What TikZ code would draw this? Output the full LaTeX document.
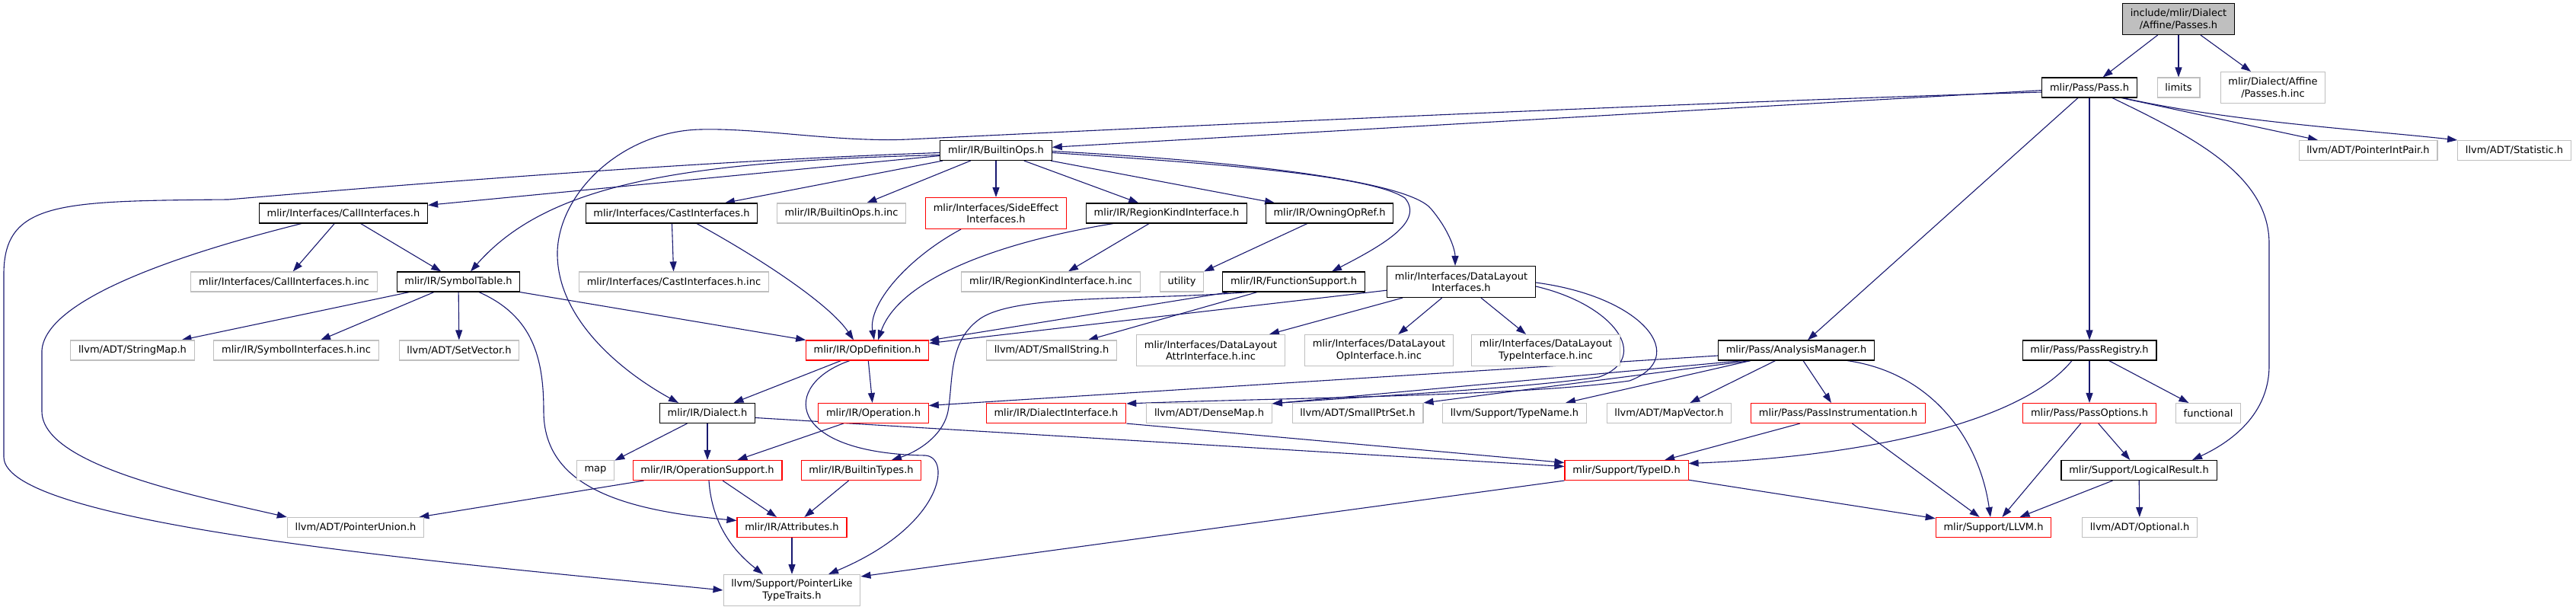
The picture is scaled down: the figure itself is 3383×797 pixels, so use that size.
\documentclass[tikz,border=0pt]{standalone}
\usepackage{fontspec}
\setmainfont{DejaVu Sans}
\usepackage{tikz}
\usetikzlibrary{arrows.meta,backgrounds}
\definecolor{incBlue}{HTML}{191970}
\definecolor{incGray}{HTML}{BFBFBF}
\definecolor{incRed}{HTML}{FF0000}
\tikzset{
  hfile/.style={draw, fill=white, line width=1.1pt, inner xsep=10.3pt, inner ysep=0pt,
    minimum height=26pt, align=center, font=\fontsize{13}{15.6}\selectfont},
  hdoc/.style={hfile, draw=black},
  hcut/.style={hfile, draw=incRed},
  hext/.style={hfile, draw=incGray},
  tall/.style={minimum height=41pt},
}
\begin{document}
\begin{tikzpicture}[x=1pt, y=1pt,
  inc/.style={draw=incBlue, line width=1.1pt, -{Triangle[length=13pt,width=9pt]}}]
\useasboundingbox (0,0) rectangle (3383,-797);
\node[hdoc, tall, fill=incGray] (root) at (2861,-25) {include/mlir/Dialect\\/Affine/Passes.h};
\node[hdoc] (pass) at (2744,-115) {mlir/Pass/Pass.h};
\node[hext] (limits) at (2861,-115) {limits};
\node[hext, tall] (passinc) at (2985,-115) {mlir/Dialect/Affine\\/Passes.h.inc};
\node[hdoc] (bops) at (1308,-197.5) {mlir/IR/BuiltinOps.h};
\node[hext] (ptrint) at (3110,-197.5) {llvm/ADT/PointerIntPair.h};
\node[hext] (stat) at (3302,-197.5) {llvm/ADT/Statistic.h};
\node[hdoc] (calli) at (451,-280) {mlir/Interfaces/CallInterfaces.h};
\node[hdoc] (casti) at (882,-280) {mlir/Interfaces/CastInterfaces.h};
\node[hext] (bopsinc) at (1105,-280) {mlir/IR/BuiltinOps.h.inc};
\node[hcut, tall] (sidefx) at (1308,-280) {mlir/Interfaces/SideEffect\\Interfaces.h};
\node[hdoc] (regkind) at (1532,-280) {mlir/IR/RegionKindInterface.h};
\node[hdoc] (owning) at (1746,-280) {mlir/IR/OwningOpRef.h};
\node[hext] (callinc) at (373,-370) {mlir/Interfaces/CallInterfaces.h.inc};
\node[hdoc] (symtab) at (602,-370) {mlir/IR/SymbolTable.h};
\node[hext] (castinc) at (885,-370) {mlir/Interfaces/CastInterfaces.h.inc};
\node[hext] (regkindinc) at (1380,-370) {mlir/IR/RegionKindInterface.h.inc};
\node[hext] (utility) at (1552,-370) {utility};
\node[hdoc] (funcsup) at (1699,-370) {mlir/IR/FunctionSupport.h};
\node[hdoc, tall] (dlayout) at (1919,-370) {mlir/Interfaces/DataLayout\\Interfaces.h};
\node[hext] (strmap) at (174,-460) {llvm/ADT/StringMap.h};
\node[hext] (syminc) at (389,-460) {mlir/IR/SymbolInterfaces.h.inc};
\node[hext] (setvec) at (603,-460) {llvm/ADT/SetVector.h};
\node[hcut] (opdef) at (1139,-460) {mlir/IR/OpDefinition.h};
\node[hext] (smallstr) at (1381,-460) {llvm/ADT/SmallString.h};
\node[hext, tall] (attrinc) at (1590,-460) {mlir/Interfaces/DataLayout\\AttrInterface.h.inc};
\node[hext, tall] (opinc) at (1811,-460) {mlir/Interfaces/DataLayout\\OpInterface.h.inc};
\node[hext, tall] (typeinc) at (2030,-460) {mlir/Interfaces/DataLayout\\TypeInterface.h.inc};
\node[hdoc] (anamgr) at (2359,-460) {mlir/Pass/AnalysisManager.h};
\node[hdoc] (passreg) at (2744,-460) {mlir/Pass/PassRegistry.h};
\node[hdoc] (dialect) at (929,-542.5) {mlir/IR/Dialect.h};
\node[hcut] (operation) at (1147,-542.5) {mlir/IR/Operation.h};
\node[hcut] (dialint) at (1387,-542.5) {mlir/IR/DialectInterface.h};
\node[hext] (densemap) at (1588,-542.5) {llvm/ADT/DenseMap.h};
\node[hext] (smallptr) at (1783,-542.5) {llvm/ADT/SmallPtrSet.h};
\node[hext] (typename) at (1989,-542.5) {llvm/Support/TypeName.h};
\node[hext] (mapvec) at (2192,-542.5) {llvm/ADT/MapVector.h};
\node[hcut] (passinstr) at (2414,-542.5) {mlir/Pass/PassInstrumentation.h};
\node[hcut] (passopt) at (2744,-542.5) {mlir/Pass/PassOptions.h};
\node[hext] (functional) at (2900,-542.5) {functional};
\node[hext] (map) at (782,-617.5) {map};
\node[hcut] (opsupp) at (929,-617.5) {mlir/IR/OperationSupport.h};
\node[hcut] (btypes) at (1131,-617.5) {mlir/IR/BuiltinTypes.h};
\node[hcut] (typeid) at (2136,-617.5) {mlir/Support/TypeID.h};
\node[hdoc] (logres) at (2809,-617.5) {mlir/Support/LogicalResult.h};
\node[hext] (ptrunion) at (467,-692.5) {llvm/ADT/PointerUnion.h};
\node[hcut] (attrs) at (1040,-692.5) {mlir/IR/Attributes.h};
\node[hcut] (llvmh) at (2618,-692.5) {mlir/Support/LLVM.h};
\node[hext] (optional) at (2810,-692.5) {llvm/ADT/Optional.h};
\node[hext, tall] (ptrlike) at (1040,-775) {llvm/Support/PointerLike\\TypeTraits.h};
\begin{scope}[on background layer]
\foreach \a/\b in {root/pass, root/limits, root/passinc, pass/bops, pass/anamgr, pass/passreg,
    bops/calli, bops/casti, bops/bopsinc, bops/sidefx, bops/regkind, bops/owning,
    calli/callinc, calli/symtab, casti/castinc, regkind/regkindinc, owning/utility,
    symtab/strmap, symtab/syminc, symtab/setvec, symtab/opdef,
    funcsup/opdef, funcsup/smallstr, dlayout/opdef, dlayout/attrinc, dlayout/opinc, dlayout/typeinc,
    anamgr/mapvec, anamgr/passinstr, passreg/passopt, passreg/functional,
    opdef/dialect, opdef/operation, dialect/map, dialect/opsupp, operation/opsupp,
    opsupp/ptrunion, opsupp/attrs, btypes/attrs, attrs/ptrlike,
    typeid/llvmh, passinstr/typeid, passinstr/llvmh,
    passopt/llvmh, passopt/logres, logres/llvmh, logres/optional}
  \draw[inc] (\a) -- (\b);
\draw[inc] ([yshift=-6pt]pass.west) .. controls (2200,-135) and (1500,-168) .. (1193,-183)
  .. controls (1100,-187) and (1000,-168) .. (920,-170) .. controls (820,-172) and (735,-250) .. (732,-330)
  .. controls (730,-420) and (820,-490) .. ([xshift=-38pt]dialect.north);
\draw[inc] ([xshift=42pt]pass.south) -- ([xshift=-66pt]ptrint.north);
\draw[inc] ([xshift=44pt]pass.south) .. controls (2930,-160) and (3100,-170) .. (stat.north west);
\draw[inc] ([xshift=30pt]pass.south) .. controls (2880,-180) and (2980,-230) .. (2980,-320) -- (2980,-480)
  .. controls (2980,-550) and (2920,-585) .. ([xshift=70pt]logres.north);
\draw[inc] ([yshift=-3pt]bops.west) .. controls (900,-212) and (500,-245) .. (300,-262)
  .. controls (80,-264) and (5,-264) .. (5,-360) -- (5,-600) .. controls (5,-690) and (600,-740) .. (ptrlike.west);
\draw[inc] ([yshift=-6pt]bops.west) .. controls (900,-212) and (720,-240) .. ([xshift=16pt]symtab.north);
\draw[inc] ([yshift=-3pt]bops.east) .. controls (1600,-215) and (1800,-230) .. (1845,-260)
  .. controls (1870,-290) and (1820,-320) .. ([xshift=50pt]funcsup.north);
\draw[inc] ([yshift=-1pt]bops.east) .. controls (1600,-210) and (1850,-235) .. (1880,-275)
  .. controls (1905,-305) and (1911,-330) .. ([xshift=-8pt]dlayout.north);
\draw[inc] ([xshift=-55pt]calli.south) .. controls (250,-330) and (60,-390) .. (55,-460) -- (55,-540)
  .. controls (55,-610) and (250,-650) .. (ptrunion.north west);
\draw[inc] ([xshift=27pt]symtab.south) .. controls (700,-415) and (714,-470) .. (714,-540)
  .. controls (714,-640) and (820,-670) .. ([yshift=9pt]attrs.west);
\draw[inc] ([xshift=33pt]casti.south) .. controls (1000,-340) and (1090,-400) .. ([xshift=-18pt]opdef.north);
\draw[inc] ([xshift=-46pt]sidefx.south) .. controls (1190,-340) and (1140,-400) .. ([xshift=9pt]opdef.north);
\draw[inc] ([xshift=-70pt]regkind.south) .. controls (1300,-320) and (1180,-370) .. ([xshift=14pt]opdef.north);
\draw[inc] ([xshift=-60pt]funcsup.south) .. controls (1500,-395) and (1330,-385) .. (1285,-420)
  .. controls (1245,-450) and (1252,-500) .. (1245,-540) .. controls (1238,-575) and (1200,-595) .. ([xshift=40pt]btypes.north);
\draw[inc] ([yshift=-6pt]dlayout.east) .. controls (2120,-400) and (2170,-470) .. (2100,-495)
  .. controls (2000,-510) and (1800,-520) .. ([yshift=-1pt]densemap.north east);
\draw[inc] ([yshift=-1pt]dlayout.east) .. controls (2160,-390) and (2220,-470) .. (2140,-500)
  .. controls (2000,-520) and (1700,-522) .. ([yshift=-1pt]dialint.north east);
\draw[inc] ([yshift=-7pt]anamgr.west) -- ([yshift=10pt]operation.east);
\draw[inc] ([xshift=-70pt]anamgr.south) -- ([yshift=-1pt]densemap.north east);
\draw[inc] ([xshift=-60pt]anamgr.south) -- (smallptr.north east);
\draw[inc] ([xshift=-60pt]anamgr.south) -- ([xshift=-28pt]typename.north east);
\draw[inc] ([xshift=67pt]anamgr.south) .. controls (2540,-490) and (2600,-580) .. ([xshift=-4pt]llvmh.north);
\draw[inc] ([xshift=-23pt]passreg.south) .. controls (2650,-560) and (2430,-600) .. ([yshift=9pt]typeid.east);
\draw[inc] ([yshift=-6pt]dialect.east) -- ([yshift=5pt]typeid.west);
\draw[inc] (dialint.south east) -- ([yshift=10pt]typeid.west);
\draw[inc] ([xshift=-23pt]opdef.south) .. controls (1025,-505) and (1030,-595) .. (1215,-598)
  .. controls (1250,-600) and (1240,-690) .. ([xshift=48pt]ptrlike.north);
\draw[inc] ([xshift=2pt]opsupp.south) .. controls (935,-690) and (965,-725) .. ([xshift=-38pt]ptrlike.north);
\draw[inc] (typeid.south west) -- ([yshift=-3pt]ptrlike.north east);
\end{scope}
\end{tikzpicture}
\end{document}
